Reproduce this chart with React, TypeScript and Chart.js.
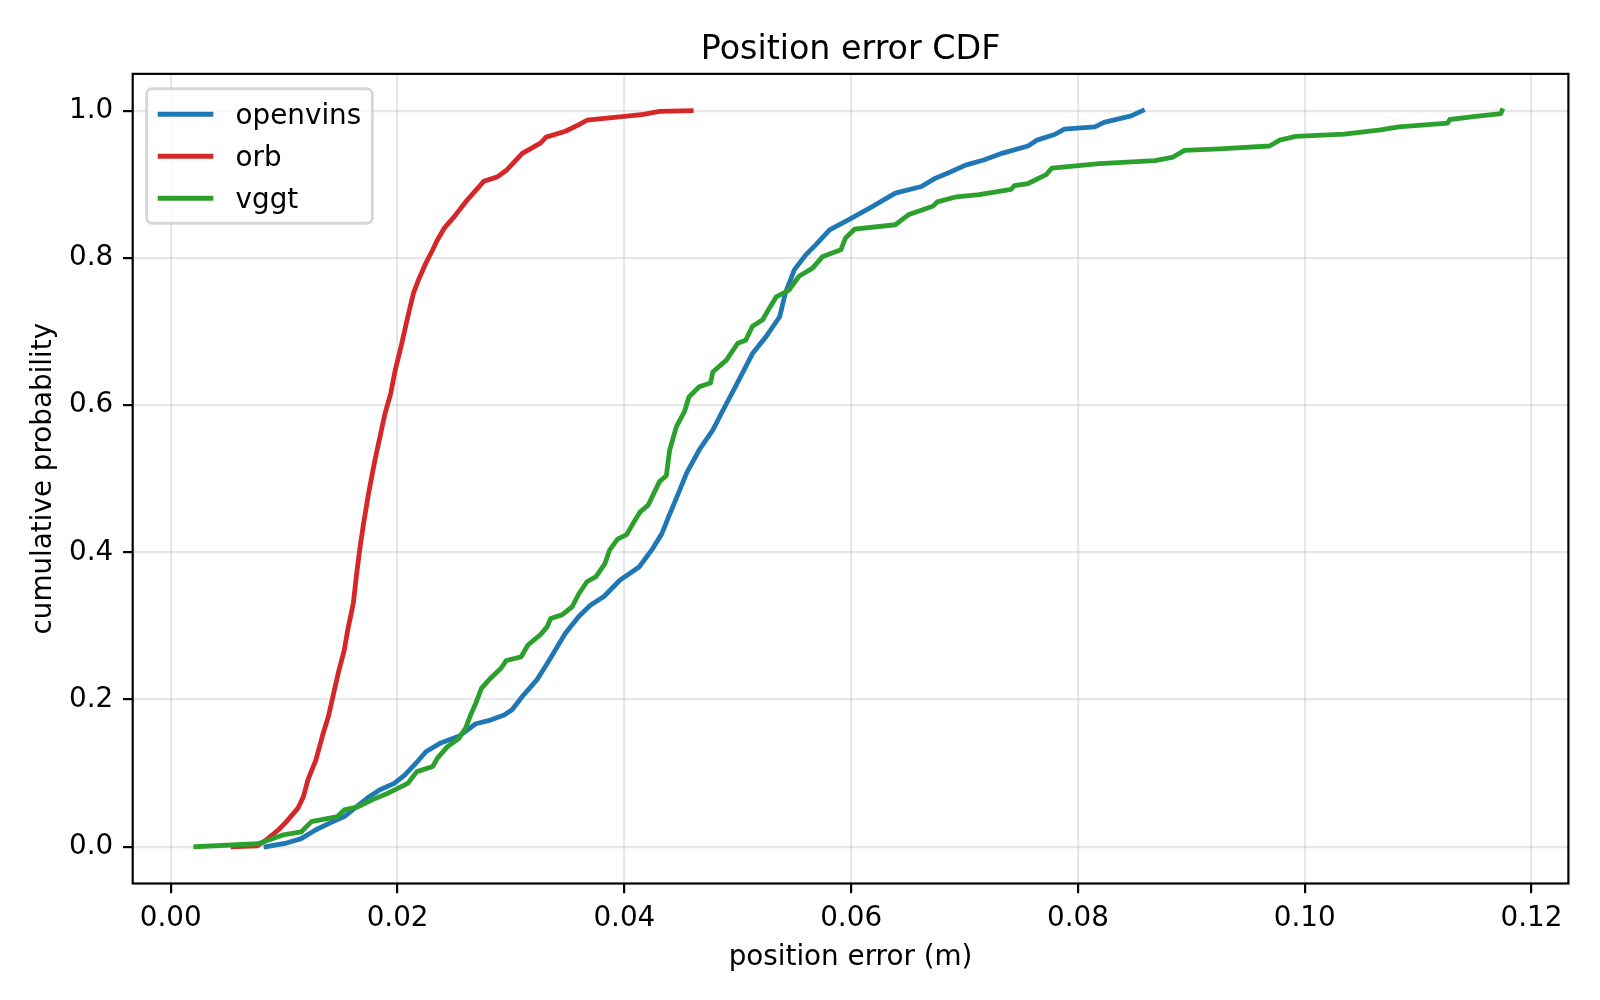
import React, { useEffect, useRef } from "react";
import { Chart, registerables } from "chart.js";

Chart.register(...registerables);

const TITLE = "Position error CDF";
const X_LABEL = "position error (m)";
const Y_LABEL = "cumulative probability";

const SERIES_LABELS = ["openvins", "orb", "vggt"];
const SERIES_COLORS = ["#1f77b4", "#d62728", "#2ca02c"];

const OPENVINS_X = [
  0.0084, 0.0102, 0.0115, 0.0128, 0.014, 0.0153, 0.0162, 0.0175, 0.0184, 0.0197,
  0.0206, 0.0216, 0.0225, 0.0238, 0.0254, 0.0269, 0.0282, 0.0294, 0.0301, 0.031,
  0.0323, 0.0332, 0.0348, 0.036, 0.037, 0.0382, 0.0396, 0.0413, 0.0425, 0.0433,
  0.0439, 0.0446, 0.0455, 0.0466, 0.0478, 0.0487, 0.0498, 0.0513, 0.0525, 0.0537,
  0.0542, 0.055, 0.056, 0.0569, 0.0581, 0.0598, 0.0619, 0.0639, 0.0662, 0.0674,
  0.0685, 0.0701, 0.0717, 0.0733, 0.0756, 0.0764, 0.078, 0.0788, 0.0815, 0.0823,
  0.0847, 0.0857,
];
const OPENVINS_Y = [
  0.0, 0.005, 0.011, 0.023, 0.032, 0.041, 0.052, 0.068, 0.077, 0.086,
  0.097, 0.113, 0.129, 0.141, 0.15, 0.167, 0.172, 0.179, 0.186, 0.204,
  0.227, 0.249, 0.29, 0.313, 0.328, 0.34, 0.362, 0.38, 0.405, 0.425,
  0.448, 0.474, 0.508, 0.539, 0.566, 0.593, 0.625, 0.67, 0.693, 0.72,
  0.752, 0.784, 0.804, 0.818, 0.838, 0.852, 0.87, 0.888, 0.897, 0.908,
  0.915, 0.926, 0.933, 0.942, 0.952, 0.96, 0.968, 0.975, 0.978, 0.984,
  0.993, 1.0,
];

const ORB_X = [
  0.0055, 0.0076, 0.0084, 0.0095, 0.0102, 0.0112, 0.0117, 0.0121, 0.0128, 0.0134,
  0.0139, 0.0143, 0.0148, 0.0153, 0.0156, 0.0161, 0.0164, 0.0167, 0.017, 0.0175,
  0.018, 0.0189, 0.0194, 0.0198, 0.0203, 0.0209, 0.0214, 0.0219, 0.0225, 0.0231,
  0.0235, 0.0241, 0.025, 0.026, 0.0268, 0.0276, 0.0288, 0.0296, 0.031, 0.0326,
  0.0331, 0.0348, 0.036, 0.0367, 0.0398, 0.0417, 0.0431, 0.0459,
];
const ORB_Y = [
  0.0, 0.001, 0.009, 0.023, 0.034, 0.052, 0.068, 0.091, 0.118, 0.152,
  0.177, 0.204, 0.238, 0.267, 0.294, 0.331, 0.372, 0.408, 0.439, 0.485,
  0.525, 0.589, 0.616, 0.648, 0.679, 0.72, 0.752, 0.772, 0.793, 0.811,
  0.824, 0.84, 0.856, 0.876, 0.89, 0.904, 0.91, 0.919, 0.942, 0.956,
  0.964, 0.972, 0.981, 0.987, 0.992, 0.995, 0.999, 1.0,
];

const VGGT_X = [
  0.0022, 0.0077, 0.009, 0.0099, 0.0115, 0.0124, 0.0147, 0.0153, 0.0165, 0.0178,
  0.0192, 0.0209, 0.0217, 0.0231, 0.0235, 0.0244, 0.0254, 0.026, 0.0265, 0.0269,
  0.0274, 0.0282, 0.0291, 0.0296, 0.0309, 0.0315, 0.0326, 0.0332, 0.0335, 0.0345,
  0.0354, 0.036, 0.0367, 0.0375, 0.0383, 0.0387, 0.0394, 0.0402, 0.0408, 0.0414,
  0.0421, 0.0426, 0.0431, 0.0437, 0.044, 0.0446, 0.0453, 0.0457, 0.0466, 0.0476,
  0.0478, 0.049, 0.05, 0.0507, 0.0513, 0.0522, 0.0528, 0.0534, 0.0545, 0.0554,
  0.0566, 0.0575, 0.0591, 0.0595, 0.0603, 0.0639, 0.0651, 0.0672, 0.0676, 0.0693,
  0.0713, 0.0741, 0.0744, 0.0756, 0.0772, 0.0777, 0.0819, 0.0868, 0.0884, 0.0894,
  0.0925, 0.0969, 0.0978, 0.0992, 0.1035, 0.1067, 0.1083, 0.1126, 0.1128, 0.1149,
  0.1173, 0.1174,
];
const VGGT_Y = [
  0.0, 0.004, 0.011, 0.016, 0.02, 0.034, 0.041, 0.05, 0.054, 0.064,
  0.073, 0.086, 0.102, 0.109, 0.12, 0.136, 0.147, 0.161, 0.181, 0.195,
  0.215, 0.229, 0.242, 0.253, 0.258, 0.274, 0.288, 0.299, 0.31, 0.315,
  0.326, 0.344, 0.36, 0.367, 0.385, 0.403, 0.418, 0.424, 0.44, 0.455,
  0.464, 0.48, 0.496, 0.504, 0.539, 0.571, 0.591, 0.611, 0.625, 0.63,
  0.645, 0.661, 0.684, 0.688, 0.707, 0.716, 0.732, 0.747, 0.756, 0.775,
  0.786, 0.802, 0.811, 0.827, 0.839, 0.845, 0.859, 0.87, 0.876, 0.883,
  0.886, 0.893, 0.898, 0.901, 0.913, 0.922, 0.928, 0.932, 0.937, 0.946,
  0.948, 0.952, 0.96, 0.965, 0.968, 0.974, 0.978, 0.983, 0.988, 0.992,
  0.996, 1.0,
];

const SERIES_X = [OPENVINS_X, ORB_X, VGGT_X];
const SERIES_Y = [OPENVINS_Y, ORB_Y, VGGT_Y];

const X_TICKS = [0.0, 0.02, 0.04, 0.06, 0.08, 0.1, 0.12];
const Y_TICKS = [0.0, 0.2, 0.4, 0.6, 0.8, 1.0];
const X_MIN = -0.00336;
const X_MAX = 0.12326;
const Y_MIN = -0.05;
const Y_MAX = 1.05;

const FONT = "DejaVu Sans";
const FS = 27.8;
const GRID = "rgba(176,176,176,0.3)";
const LINE_W = 4.8;

const framePlugin = {
  id: "mplFrame",
  afterDatasetsDraw(chart: any) {
    const { ctx, chartArea: a } = chart;
    ctx.save();
    ctx.strokeStyle = "#000";
    ctx.lineWidth = 2.2;
    ctx.strokeRect(a.left, a.top, a.right - a.left, a.bottom - a.top);
    ctx.restore();
  },
};

const legendPlugin = {
  id: "mplLegend",
  afterDraw(chart: any) {
    const { ctx, chartArea: a } = chart;
    const ds = chart.data.datasets;
    ctx.save();
    ctx.font = `${FS}px "${FONT}"`;
    const textW = Math.max(...ds.map((d: any) => ctx.measureText(d.label).width));
    const left = a.left + 0.5 * FS;
    const top = a.top + 0.5 * FS + 1;
    const w = 0.4 * FS + 2 * FS + 0.8 * FS + textW + 0.4 * FS;
    const rowGap = 42;
    const first = 24;
    const h = first * 2 + rowGap * (ds.length - 1) + 2.5;
    ctx.beginPath();
    ctx.roundRect(left, top, w, h, 5.5);
    ctx.fillStyle = "rgba(255,255,255,0.8)";
    ctx.fill();
    ctx.lineWidth = 2.8;
    ctx.strokeStyle = "rgba(204,204,204,0.8)";
    ctx.stroke();
    ds.forEach((d: any, i: number) => {
      const y = top + first + i * rowGap + 1.5;
      ctx.beginPath();
      ctx.moveTo(left + 0.4 * FS, y);
      ctx.lineTo(left + 2.4 * FS, y);
      ctx.strokeStyle = d.borderColor;
      ctx.lineWidth = LINE_W;
      ctx.lineCap = "butt";
      ctx.stroke();
      ctx.fillStyle = "#000";
      ctx.textAlign = "left";
      ctx.textBaseline = "middle";
      ctx.fillText(d.label, left + 3.2 * FS, y + 2.5);
    });
    ctx.restore();
  },
};

export default function App() {
  const ref = useRef<HTMLCanvasElement>(null);
  useEffect(() => {
    document.body.style.margin = "0";
    document.body.style.overflow = "hidden";
    Chart.defaults.font.family = FONT;
    Chart.defaults.color = "#000";
    const datasets = SERIES_LABELS.map((label, i) => ({
      label,
      data: SERIES_X[i].map((x, j) => ({ x, y: SERIES_Y[i][j] })),
      borderColor: SERIES_COLORS[i],
      backgroundColor: SERIES_COLORS[i],
      borderWidth: LINE_W,
      pointRadius: 0,
      tension: 0,
      fill: false,
      borderJoinStyle: "round" as const,
      borderCapStyle: "square" as const,
      order: SERIES_LABELS.length - i,
    }));
    const chart = new Chart(ref.current!, {
      type: "line",
      data: { datasets },
      options: {
        animation: false,
        responsive: false,
        devicePixelRatio: 1,
        layout: { padding: { left: 0, right: 31.6, top: 0, bottom: 0 } },
        plugins: {
          legend: { display: false },
          tooltip: { enabled: false },
          title: {
            display: true,
            text: TITLE,
            fullSize: false,
            color: "#000",
            font: { family: FONT, size: 33.3, weight: "normal" },
            padding: { top: 30.8, bottom: 3.1 },
          },
        },
        scales: {
          x: {
            type: "linear",
            min: X_MIN,
            max: X_MAX,
            afterBuildTicks: (s: any) => {
              s.ticks = X_TICKS.map((v) => ({ value: v }));
            },
            afterFit: (s: any) => {
              s.height = 116.5;
            },
            ticks: {
              callback: (v: any) => Number(v).toFixed(2),
              font: { family: FONT, size: FS },
              color: "#000",
              padding: 8.5,
              maxRotation: 0,
              autoSkip: false,
            },
            grid: {
              color: GRID,
              lineWidth: 2.2,
              tickColor: "#000",
              tickLength: 9.7,
              tickWidth: 2.2,
              drawTicks: true,
            },
            border: { display: false },
            title: {
              display: true,
              text: X_LABEL,
              color: "#000",
              font: { family: FONT, size: FS },
              padding: { top: 0, bottom: 25.3 },
            },
          },
          y: {
            type: "linear",
            min: Y_MIN,
            max: Y_MAX,
            afterBuildTicks: (s: any) => {
              s.ticks = Y_TICKS.map((v) => ({ value: v }));
            },
            afterFit: (s: any) => {
              s.width = 132.7;
            },
            ticks: {
              callback: (v: any) => Number(v).toFixed(1),
              font: { family: FONT, size: FS },
              color: "#000",
              padding: 9.7,
              autoSkip: false,
            },
            grid: {
              color: GRID,
              lineWidth: 2.2,
              tickColor: "#000",
              tickLength: 9.7,
              tickWidth: 2.2,
              drawTicks: true,
            },
            border: { display: false },
            title: {
              display: true,
              text: Y_LABEL,
              color: "#000",
              font: { family: FONT, size: FS },
              padding: { top: 27.3, bottom: 0 },
            },
          },
        },
      },
      plugins: [framePlugin, legendPlugin],
    });
    return () => chart.destroy();
  }, []);
  return (
    <div style={{ width: 1600, height: 1000, background: "#fff" }}>
      <canvas ref={ref} width={1600} height={1000} style={{ display: "block", width: 1600, height: 1000 }} />
    </div>
  );
}
